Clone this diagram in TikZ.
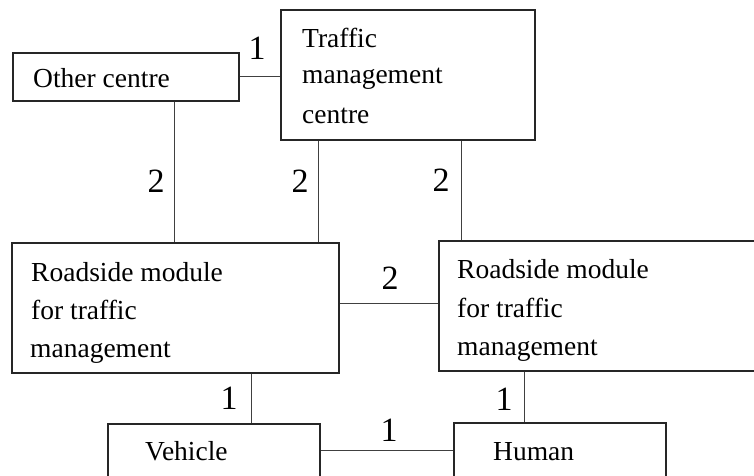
\documentclass[tikz,border=0pt]{standalone}
\usepackage{fontspec}
\setmainfont{Liberation Serif}
\usetikzlibrary{calc}
\begin{document}
\begin{tikzpicture}[x=1pt,y=-1pt,
  box/.style={draw=black!85, line width=1.6pt, rectangle, inner sep=0pt, anchor=north west},
  link/.style={draw=black!75, line width=0.8pt},
  txt/.style={anchor=base west, inner sep=0pt, font=\fontsize{27.5}{32}\selectfont},
  num/.style={anchor=base, inner sep=0pt, font=\fontsize{34}{40}\selectfont}]
\useasboundingbox (0,0) rectangle (754,475);
\clip (0,0) rectangle (754,475);
% boxes
\node[box, minimum width=226pt, minimum height=48pt] (oc) at (12,52) {};
\node[box, minimum width=254pt, minimum height=130pt] (tmc) at (280,9) {};
\node[box, minimum width=327pt, minimum height=130pt] (rl) at (11,242) {};
\node[box, minimum width=330pt, minimum height=130pt] (rr) at (438,240) {};
\node[box, minimum width=212pt, minimum height=80pt] (veh) at (107,423) {};
\node[box, minimum width=212pt, minimum height=80pt] (hum) at (453,422) {};
% connectors
\draw[link] (oc.east) -- (oc.east -| tmc.west);
\draw[link] ([xshift=162pt]oc.south west) -- ([xshift=162pt]oc.south west |- rl.north);
\draw[link] ([xshift=38pt]tmc.south west) -- ([xshift=38pt]tmc.south west |- rl.north);
\draw[link] ([xshift=181pt]tmc.south west) -- ([xshift=181pt]tmc.south west |- rr.north);
\draw[link] ([yshift=-61pt]rl.north east) -- ([yshift=-61pt]rl.north east -| rr.west);
\draw[link] ([xshift=240pt]rl.south west) -- ([xshift=240pt]rl.south west |- veh.north);
\draw[link] ([xshift=86pt]rr.south west) -- ([xshift=86pt]rr.south west |- hum.north);
\draw[link] ([yshift=-27pt]veh.north east) -- ([yshift=-27pt]veh.north east -| hum.west);
% texts
\node[txt] (t1) at (302,47) {Traffic};
\node[txt] (t2) at (302,83) {management};
\node[txt] (t3) at (302,123) {centre};
\node[txt] (o1) at (33,87) {Other centre};
\node[txt] (l1) at (31,281) {Roadside module};
\node[txt] (l2) at (31,319) {for traffic};
\node[txt] (l3) at (30,357) {management};
\node[txt] (r1) at (457,278) {Roadside module};
\node[txt] (r2) at (457,317) {for traffic};
\node[txt] (r3) at (457,355) {management};
\node[txt] (v1) at (145,460) {Vehicle};
\node[txt] (h1) at (493,460) {Human};
% numbers
\node[num] (n1) at (257,59) {1};
\node[num] (n2) at (156,192) {2};
\node[num] (n3) at (300,192) {2};
\node[num] (n4) at (441,191) {2};
\node[num] (n5) at (390,289) {2};
\node[num] (n6) at (229,409) {1};
\node[num] (n7) at (504,410) {1};
\node[num] (n8) at (389,441) {1};
\end{tikzpicture}
\end{document}
